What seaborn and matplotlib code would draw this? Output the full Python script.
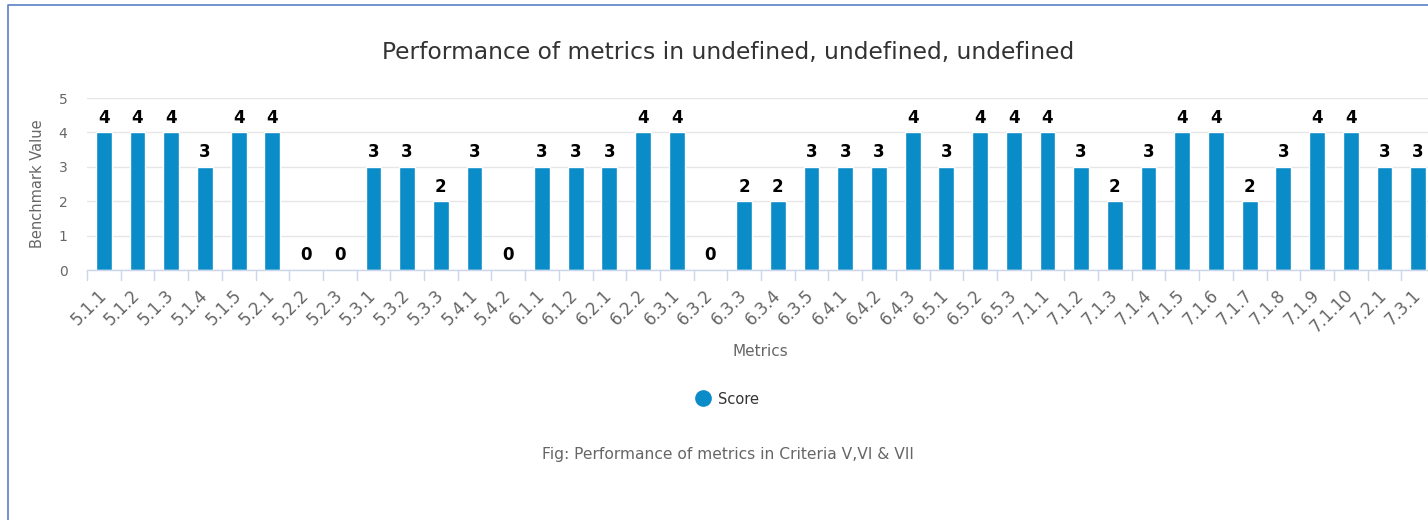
import matplotlib
matplotlib.use("Agg")
import matplotlib.pyplot as plt
import seaborn as sns
import pandas as pd
from matplotlib.lines import Line2D

metrics = ["5.1.1", "5.1.2", "5.1.3", "5.1.4", "5.1.5", "5.2.1", "5.2.2", "5.2.3",
           "5.3.1", "5.3.2", "5.3.3", "5.4.1", "5.4.2", "6.1.1", "6.1.2", "6.2.1",
           "6.2.2", "6.3.1", "6.3.2", "6.3.3", "6.3.4", "6.3.5", "6.4.1", "6.4.2",
           "6.4.3", "6.5.1", "6.5.2", "6.5.3", "7.1.1", "7.1.2", "7.1.3", "7.1.4",
           "7.1.5", "7.1.6", "7.1.7", "7.1.8", "7.1.9", "7.1.10", "7.2.1", "7.3.1"]
scores = [4, 4, 4, 3, 4, 4, 0, 0, 3, 3, 2, 3, 0, 3, 3, 3,
          4, 4, 0, 2, 2, 3, 3, 3, 4, 3, 4, 4, 4, 3, 2, 3,
          4, 4, 2, 3, 4, 4, 3, 3]
y_ticks = [0, 1, 2, 3, 4, 5]

bar_color = "#0a8cc8"
grey = "#666666"

sns.set_style("white")
plt.rcParams['font.family'] = ['DejaVu Sans']

df = pd.DataFrame({"Metrics": metrics, "Score": scores})

fig = plt.figure(figsize=(14.28, 5.2), dpi=100)
W, H = 1428, 520
# plot area runs slightly past the right edge, like the reference
ax = fig.add_axes([87 / W, (520 - 270) / H, (1435 - 87) / W, 172 / H])

sns.barplot(data=df, x="Metrics", y="Score", color=bar_color, width=0.47,
            saturation=1, ax=ax)

ax.bar_label(ax.containers[0], fmt="%d", padding=4, fontsize=12,
             fontweight="bold", color="black")

ax.set_ylim(0, 5)
ax.set_xlim(-0.5, len(metrics) - 0.5)
ax.set_yticks(y_ticks)
ax.yaxis.grid(True, color="#e6e6e6", linewidth=1)
ax.set_axisbelow(True)
for side in ["top", "right", "left"]:
    ax.spines[side].set_visible(False)
ax.spines["bottom"].set_color("#ccd6eb")
ax.spines["bottom"].set_linewidth(1)

ax.tick_params(axis="y", length=0, labelsize=10, labelcolor=grey, pad=14)
ax.tick_params(axis="x", length=0, labelsize=12, labelcolor=grey, pad=16)
plt.setp(ax.get_xticklabels(), rotation=45, ha="right", va="center",
         rotation_mode="anchor")

# category separator ticks
for i in range(len(metrics) + 1):
    ax.plot([i - 0.5, i - 0.5], [0, -0.06 * 5], color="#ccd6eb", lw=1,
            clip_on=False, transform=ax.transData)

ax.set_xlabel("")
ax.set_ylabel("Benchmark Value", fontsize=10.5, color=grey, labelpad=10)

fig.text(728 / W, 1 - 53 / H, "Performance of metrics in undefined, undefined, undefined",
         ha="center", va="center", fontsize=16.8, color="#333333")
fig.text(760 / W, 1 - 351 / H, "Metrics", ha="center", va="center",
         fontsize=11, color=grey)

# legend
fig.add_artist(Line2D([703 / W], [1 - 398 / H], marker="o", markersize=11,
                      color=bar_color, linestyle="None", transform=fig.transFigure))
fig.text(718 / W, 1 - 399 / H, "Score", ha="left", va="center",
         fontsize=10.5, color="#333333")

fig.text(728 / W, 1 - 455 / H, "Fig: Performance of metrics in Criteria V,VI & VII",
         ha="center", va="center", fontsize=11.2, color=grey)

# outer frame (top and left edges visible)
fig.add_artist(Line2D([8 / W, 8 / W, 1.0], [0, 1 - 5 / H, 1 - 5 / H],
                      color="#5b7fc7", lw=1.2, transform=fig.transFigure))

fig.savefig("out.png", dpi=100)
